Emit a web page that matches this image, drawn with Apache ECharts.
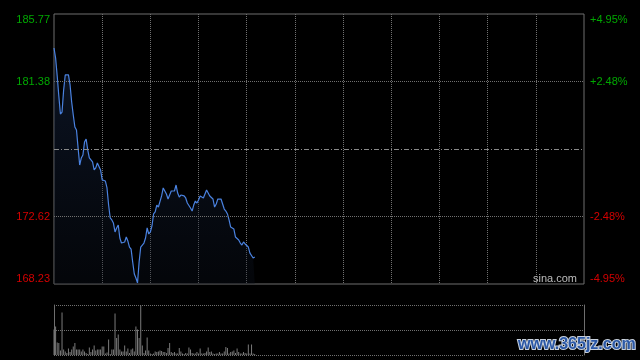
<!DOCTYPE html>
<html>
<head>
<meta charset="utf-8">
<script src="https://cdn.jsdelivr.net/npm/echarts@6/dist/echarts.min.js"></script>
<style>
html,body{margin:0;padding:0;background:#000;}
#c{width:640px;height:360px;}
</style>
</head>
<body>
<div id="c"></div>
<script>
// ---- data ----
var prevClose = 177.00;
var priceMin = 168.23;
var priceMax = 185.77;
var priceTickLabels = ['168.23', '172.62', '177.00', '181.38', '185.77'];
var pctTickLabels = ['-4.95%', '-2.48%', '', '+2.48%', '+4.95%'];
var gridLevels = [172.615, 181.385];
var sessionMinutes = 330;
var prices = [
  183.56, 182.91, 181.74, 180.44, 179.27, 179.40, 180.83, 181.81, 181.87, 181.81,
  181.16, 180.05, 179.21, 178.43, 178.23, 177.07, 175.96, 176.42, 176.61, 177.45,
  177.65, 176.94, 176.42, 176.35, 176.16, 175.64, 175.77, 176.09, 176.16, 175.64,
  174.99, 174.99, 174.92, 174.47, 173.36, 172.52, 172.39, 172.19, 171.61, 171.87,
  172.06, 171.22, 170.89, 170.96, 170.96, 171.28, 171.02, 170.63, 170.50, 169.66,
  168.88, 168.62, 168.30, 169.66, 170.63, 170.57, 170.89, 171.22, 171.87, 171.48,
  171.61, 172.00, 172.78, 172.91, 173.36, 173.23, 173.30, 173.95, 174.47, 174.47,
  174.08, 173.75, 174.01, 174.27, 174.21, 174.27, 174.66, 174.14, 173.88, 174.01,
  174.01, 173.95, 173.82, 173.49, 173.56, 173.17, 172.97, 173.36, 173.62, 173.49,
  173.69, 173.95, 173.88, 173.82, 174.08, 174.34, 174.27, 173.95, 173.95, 173.75,
  173.23, 173.43, 173.75, 173.75, 173.75, 173.43, 173.10, 172.97, 172.78, 172.39,
  171.93, 172.00, 171.80, 171.28, 171.22, 171.09, 170.89, 170.76, 170.96, 170.83,
  170.89, 170.63, 170.24, 170.24, 169.92, 169.98
];
var volumes = [
  51, 57, 25, 24, 9, 85, 11, 7, 4, 13,
  6, 11, 17, 24, 11, 11, 11, 7, 11, 7,
  4, 2, 15, 6, 11, 19, 9, 11, 11, 11,
  17, 17, 3, 5, 31, 2, 11, 11, 83, 34,
  41, 11, 7, 7, 19, 7, 13, 4, 11, 13,
  7, 57, 51, 34, 99, 19, 4, 9, 35, 9,
  3, 2, 3, 7, 6, 7, 9, 8, 6, 6,
  4, 14, 24, 6, 4, 6, 3, 3, 14, 7,
  3, 2, 4, 3, 15, 11, 4, 3, 3, 6,
  3, 13, 3, 3, 4, 7, 15, 6, 7, 3,
  2, 3, 3, 6, 3, 3, 7, 16, 14, 3,
  6, 7, 9, 4, 13, 6, 3, 3, 6, 4,
  3, 21, 3, 21, 3, 2
];
var volumeMax = 100;

// ---- chart ----
var FONT = 'Liberation Sans, Arial, sans-serif';
var GREEN = '#00a800';
var RED = '#d40000';
var GRIDC = '#707070';
var BORDER = '#6e6e6e';

function labelColor(idx) {
  if (idx > 2) return GREEN;
  if (idx < 2) return RED;
  return 'transparent';
}

var chart = echarts.init(document.getElementById('c'), null, {renderer: 'canvas'});

var option = {
  backgroundColor: '#000000',
  animation: false,
  grid: [
    {left: 54, top: 14, width: 530, height: 270, show: true, borderColor: BORDER, borderWidth: 1, backgroundColor: 'transparent'},
    {left: 54, top: 305, width: 530, height: 50, show: false}
  ],
  xAxis: [
    {
      type: 'value', gridIndex: 0, min: 0, max: sessionMinutes, interval: 30,
      axisLine: {show: false}, axisTick: {show: false}, axisLabel: {show: false},
      splitLine: {show: true, showMinLine: false, showMaxLine: false, lineStyle: {color: GRIDC, type: [1, 1], width: 1}}
    },
    {
      type: 'value', gridIndex: 1, min: 0, max: sessionMinutes, interval: 30,
      axisLine: {show: false}, axisTick: {show: false}, axisLabel: {show: false},
      splitLine: {show: false}
    }
  ],
  yAxis: [
    {
      type: 'value', gridIndex: 0, position: 'left', min: priceMin, max: priceMax, interval: 4.385,
      axisLine: {show: false}, axisTick: {show: false}, splitLine: {show: false},
      axisLabel: {
        show: true, margin: 4, fontSize: 11, fontFamily: FONT,
        verticalAlignMinLabel: 'bottom', verticalAlignMaxLabel: 'top',
        formatter: function (v, i) { return i === 2 ? '' : priceTickLabels[i]; },
        color: function (v, i) { return labelColor(i); }
      }
    },
    {
      type: 'value', gridIndex: 0, position: 'right', min: priceMin, max: priceMax, interval: 4.385,
      axisLine: {show: false}, axisTick: {show: false}, splitLine: {show: false},
      axisLabel: {
        show: true, margin: 6, fontSize: 11, fontFamily: FONT,
        verticalAlignMinLabel: 'bottom', verticalAlignMaxLabel: 'top',
        formatter: function (v, i) { return pctTickLabels[i]; },
        color: function (v, i) { return labelColor(i); }
      }
    },
    {
      type: 'value', gridIndex: 1, position: 'left', min: 0, max: volumeMax, interval: 50,
      axisLine: {show: true, lineStyle: {color: BORDER, width: 1}}, axisTick: {show: false}, axisLabel: {show: false},
      splitLine: {show: true, lineStyle: {color: GRIDC, type: [1, 1], width: 1}}
    },
    {
      type: 'value', gridIndex: 1, position: 'right', min: 0, max: volumeMax, interval: 50,
      axisLine: {show: true, lineStyle: {color: BORDER, width: 1}}, axisTick: {show: false}, axisLabel: {show: false},
      splitLine: {show: false}
    }
  ],
  series: [
    {
      type: 'line', xAxisIndex: 0, yAxisIndex: 0,
      data: prices.map(function (p, i) { return [i, p]; }),
      showSymbol: false, symbol: 'none', smooth: false,
      lineStyle: {color: '#4a82e0', width: 1.2},
      areaStyle: {
        origin: 'start',
        color: new echarts.graphic.LinearGradient(0, 0, 0, 1, [
          {offset: 0, color: 'rgba(30,52,95,0.55)'},
          {offset: 1, color: 'rgba(12,18,30,0.45)'}
        ])
      },
      markLine: {
        silent: true, symbol: 'none', label: {show: false},
        data: [
          {yAxis: gridLevels[0], lineStyle: {color: GRIDC, type: [1, 1], width: 1}},
          {yAxis: gridLevels[1], lineStyle: {color: GRIDC, type: [1, 1], width: 1}},
          {yAxis: prevClose, lineStyle: {color: '#8a8a8a', type: [5, 2, 1, 2], width: 1}}
        ]
      },
      z: 3
    },
    {
      type: 'bar', xAxisIndex: 1, yAxisIndex: 2,
      data: volumes.map(function (v, i) { return [i, v]; }),
      barWidth: 1, itemStyle: {color: '#7a7a7a'}
    }
  ],
  graphic: [
    {
      type: 'text', right: 63, top: 273, z: 10,
      style: {text: 'sina.com', fill: '#bdbdbd', font: '11px ' + FONT}
    },
    {
      type: 'text', left: 517, top: 336, z: 10,
      style: {text: 'www.365jz.com', fill: '#2b58a6', stroke: '#c9d2de', lineWidth: 2, font: 'bold 16px ' + FONT}
    }
  ]
};
chart.setOption(option);
</script>
</body>
</html>
